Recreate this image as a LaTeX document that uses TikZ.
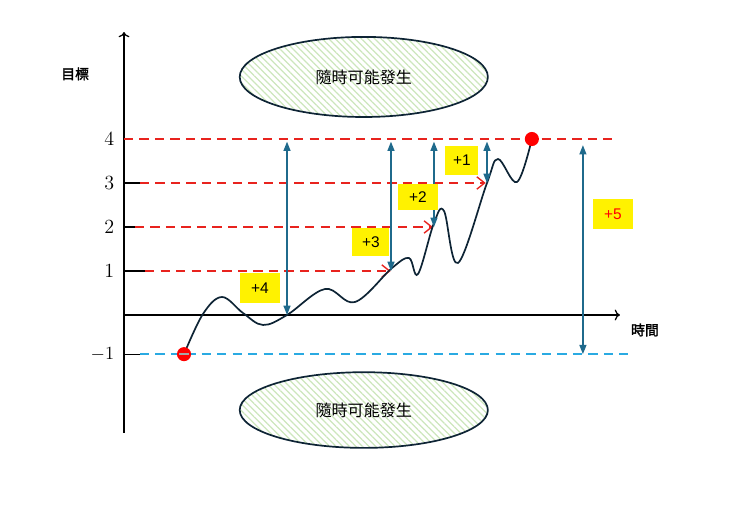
\documentclass[tikz,border=0pt]{standalone}
\usepackage{fontspec}
\setsansfont{Liberation Sans}
\newfontfamily\cjk{Noto Sans CJK TC}
\newfontfamily\cjkbold[FakeBold=2]{Noto Sans CJK TC}
\usetikzlibrary{arrows.meta,patterns.meta}
\definecolor{lvred}{HTML}{E8231E}
\definecolor{gapblue}{HTML}{1F6A8C}
\definecolor{lowblue}{HTML}{2AAAE2}
\definecolor{pathnavy}{HTML}{0E2435}
\definecolor{hatchgreen}{HTML}{CCE6BC}
\tikzset{
  lvline/.style={lvred, line width=0.9pt, dash pattern=on 6pt off 4pt},
  lvarrow/.style={lvline, -{Straight Barb[length=5pt,width=8pt]}},
  gap/.style={gapblue, line width=0.9pt, {Triangle[length=6pt,width=4.5pt]}-{Triangle[length=6pt,width=4.5pt]}},
  tag/.style={fill=yellow, inner sep=0pt, minimum width=0.9cm, minimum height=0.68cm, font=\sffamily\fontsize{10}{12}\selectfont},
  cloud/.style={draw=pathnavy, line width=1.1pt, pattern={Lines[angle=-45, distance=3pt, line width=0.8pt]}, pattern color=hatchgreen},
  lvlabel/.style={left, font=\fontsize{13}{15}\selectfont}
}
\begin{document}
\begin{tikzpicture}
    \useasboundingbox (-2.818,-4.591) rectangle (14.0,7.159);
    % axes
    \draw[->,thick](0,-2.68)--(0,6.43);
    \draw[->,thick](0,0)--(11.27,0);
    \node[font=\cjkbold\fontsize{9}{11}\selectfont] (goal) at (-1.11,5.48) {目標};
    \node[font=\cjkbold\fontsize{9}{11}\selectfont] (time) at (11.84,-0.34) {時間};
    % levels
    \node[lvlabel] (l4) at (-0.1,4) {4};
    \node[lvlabel] (l3) at (-0.1,3) {3};
    \node[lvlabel] (l2) at (-0.1,2) {2};
    \node[lvlabel] (l1) at (-0.1,1) {1};
    \node[lvlabel] (lm) at (-0.1,-0.89) {$-1$};
    \draw[thick](0,3)--(0.36,3) (0,2)--(0.25,2) (0,1)--(0.48,1) (0,-0.89)--(0.36,-0.89);
    \draw[lvline](0,4)--(11.09,4);
    \draw[lvarrow](0.36,3)--(8.22,3);
    \draw[lvarrow](0.25,2)--(7.02,2);
    \draw[lvarrow](0.48,1)--(6.06,1);
    \draw[lowblue, line width=0.9pt, dash pattern=on 6pt off 4pt](0.36,-0.89)--(11.45,-0.89);
    % clouds
    \draw[cloud](5.45,5.41) ellipse [x radius=2.82, y radius=0.91];
    \node[font=\cjk\fontsize{10.4}{12}\selectfont] (cloudtop) at (5.45,5.41) {隨時可能發生};
    \draw[cloud](5.45,-2.16) ellipse [x radius=2.82, y radius=0.86];
    \node[font=\cjk\fontsize{10.4}{12}\selectfont] (cloudbot) at (5.45,-2.16) {隨時可能發生};
    % path
    \coordinate (start) at (1.364,-0.89);
    \coordinate (goalpt) at (9.27,4.0);
    \draw[pathnavy, line width=1.1pt] plot[smooth, tension=0.6] coordinates {
      (1.364,-0.89) (1.795,0.023) (2.227,0.409) (2.705,0.045) (3.159,-0.227)
      (3.705,0) (4.568,0.591) (5.25,0.295) (6.091,1.068) (6.477,1.295)
      (6.682,0.932) (7.045,2.091) (7.273,2.364) (7.591,1.182) (8.25,3.0)
      (8.5,3.545) (8.932,3.023) (9.27,4.0)};
    \fill[red] (start) circle (0.16);
    \draw[gray!70, line width=1pt] (1.25,-0.89)--(1.48,-0.89);
    \fill[red] (goalpt) circle (0.16);
    % gaps
    \coordinate (g4t) at (3.705,3.94); \coordinate (g4b) at (3.705,0);
    \coordinate (g3t) at (6.068,3.94); \coordinate (g3b) at (6.068,1);
    \coordinate (g2t) at (7.045,3.94); \coordinate (g2b) at (7.045,2);
    \coordinate (g1t) at (8.25,3.94);  \coordinate (g1b) at (8.25,3);
    \coordinate (g5t) at (10.43,3.86); \coordinate (g5b) at (10.43,-0.89);
    \draw[gap](g4t)--(g4b);
    \draw[gap](g3t)--(g3b);
    \draw[gap](g2t)--(g2b);
    \draw[gap](g1t)--(g1b);
    \draw[gap](g5t)--(g5b);
    \node[tag] (t4) at (3.09,0.61) {+4};
    \node[tag, minimum width=0.84cm, minimum height=0.64cm] (t3) at (5.61,1.66) {+3};
    \node[tag, minimum width=0.9cm, minimum height=0.58cm] (t2) at (6.68,2.68) {+2};
    \node[tag, minimum width=0.75cm, minimum height=0.66cm] (t1) at (7.68,3.52) {+1};
    \node[tag, text=red] (t5) at (11.11,2.30) {+5};
\end{tikzpicture}
\end{document}
